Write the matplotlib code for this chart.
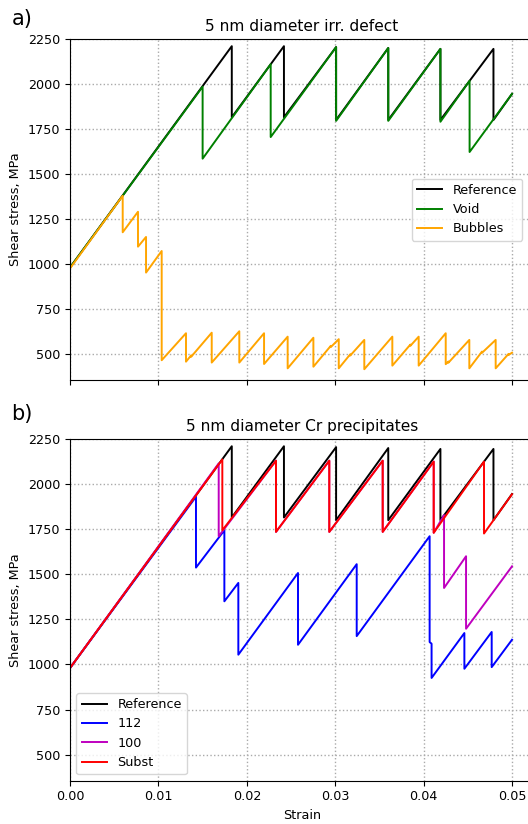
import numpy as np
import matplotlib.pyplot as plt

plt.rcParams['font.size'] = 9.2
plt.rcParams['lines.linewidth'] = 1.4

# ---- a) irradiation defects ----
ref_strain = [0, 0.0183, 0.0183, 0.0242, 0.0242, 0.0301, 0.0301, 0.0360, 0.0360,
              0.0419, 0.0419, 0.0479, 0.0479, 0.050]
ref_stress = [980, 2210, 1815, 2210, 1815, 2205, 1800, 2200, 1800,
              2195, 1800, 2195, 1800, 1945]

void_strain = [0, 0.0150, 0.0150, 0.0227, 0.0227, 0.0301, 0.0301, 0.0360, 0.0360,
               0.0419, 0.0419, 0.0452, 0.0452, 0.050]
void_stress = [980, 1985, 1585, 2110, 1705, 2205, 1795, 2200, 1795,
               2195, 1790, 2018, 1622, 1945]

bub_strain = [0, 0.00596, 0.00596, 0.00769, 0.00769, 0.0086, 0.0086, 0.01037, 0.01037,
              0.01312, 0.01312, 0.0137, 0.0137, 0.01603, 0.01603, 0.01915, 0.01915,
              0.02195, 0.02195, 0.02462, 0.02462, 0.02753, 0.02753, 0.0295, 0.0295,
              0.0304, 0.0304, 0.0317, 0.0317, 0.03329, 0.03329, 0.03646, 0.03646,
              0.0385, 0.0385, 0.03944, 0.03944, 0.0425, 0.0425, 0.0428, 0.0428,
              0.04517, 0.04517, 0.0466, 0.0466, 0.04815, 0.04815, 0.0496, 0.0496, 0.050]
bub_stress = [975, 1379, 1176, 1290, 1096, 1150, 952, 1072, 465,
              615, 457, 492, 484, 618, 452, 626, 452,
              615, 444, 596, 420, 590, 429, 545, 538,
              582, 420, 498, 491, 578, 415, 596, 435,
              552, 545, 596, 435, 615, 443, 458, 451,
              578, 420, 513, 506, 578, 420, 500, 494, 507]

# ---- b) Cr precipitates ----
p112_strain = [0, 0.01425, 0.01425, 0.01746, 0.01746, 0.01904, 0.01904, 0.02579, 0.02579,
               0.03243, 0.03243, 0.04068, 0.04068, 0.0409, 0.0409, 0.04461, 0.04461,
               0.0477, 0.0477, 0.050]
p112_stress = [980, 1930, 1537, 1744, 1350, 1452, 1054, 1507, 1109,
               1556, 1157, 1711, 1124, 1115, 925, 1174, 976,
               1180, 985, 1137]

p100_strain = [0, 0.01682, 0.01682, 0.0233, 0.0233, 0.02933, 0.02933, 0.03537, 0.03537,
               0.04114, 0.04114, 0.04231, 0.04231, 0.0448, 0.0448, 0.050]
p100_stress = [980, 2115, 1711, 2130, 1735, 2130, 1735, 2130, 1735,
               2125, 1730, 1828, 1424, 1600, 1198, 1544]

subst_strain = [0, 0.01723, 0.01723, 0.0233, 0.0233, 0.02933, 0.02933, 0.03537, 0.03537,
                0.04114, 0.04114, 0.04683, 0.04683, 0.050]
subst_stress = [980, 2137, 1744, 2130, 1735, 2130, 1735, 2130, 1735,
                2125, 1730, 2125, 1726, 1944]

fig = plt.figure(figsize=(5.28, 8.24), dpi=100)
ax1 = fig.add_axes([0.1326, 0.5388, 0.879, 0.4139])
ax2 = fig.add_axes([0.1326, 0.0525, 0.879, 0.4147])

ax1.plot(ref_strain, ref_stress, 'k-', label='Reference')
ax1.plot(void_strain, void_stress, color='green', label='Void')
ax1.plot(bub_strain, bub_stress, color='orange', label='Bubbles')
ax1.set_title('5 nm diameter irr. defect')
ax1.legend(loc='center right', bbox_to_anchor=(0.988, 0.5))
ax1.tick_params(labelbottom=False)

ax2.plot(ref_strain, ref_stress, 'k-', label='Reference')
ax2.plot(p112_strain, p112_stress, 'b-', label='112')
ax2.plot(p100_strain, p100_stress, 'm-', label='100')
ax2.plot(subst_strain, subst_stress, 'r-', label='Subst')
ax2.set_title('5 nm diameter Cr precipitates')
ax2.legend(loc='lower left')
ax2.set_xlabel('Strain')

for ax in (ax1, ax2):
    ax.set_xlim(0, 0.0525)
    ax.set_ylim(355, 2250)
    ax.set_xticks(np.arange(0, 0.051, 0.01))
    ax.set_yticks(np.arange(500, 2251, 250))
    ax.set_ylabel('Shear stress, MPa')
    ax.grid(True, linestyle=':', color='#aaaaaa', linewidth=1)

ax2.set_xticklabels(['0.00', '0.01', '0.02', '0.03', '0.04', '0.05'])

fig.text(0.022, 0.970, 'a)', fontsize=15)
fig.text(0.022, 0.490, 'b)', fontsize=15)

fig.savefig('out.png', dpi=100)
